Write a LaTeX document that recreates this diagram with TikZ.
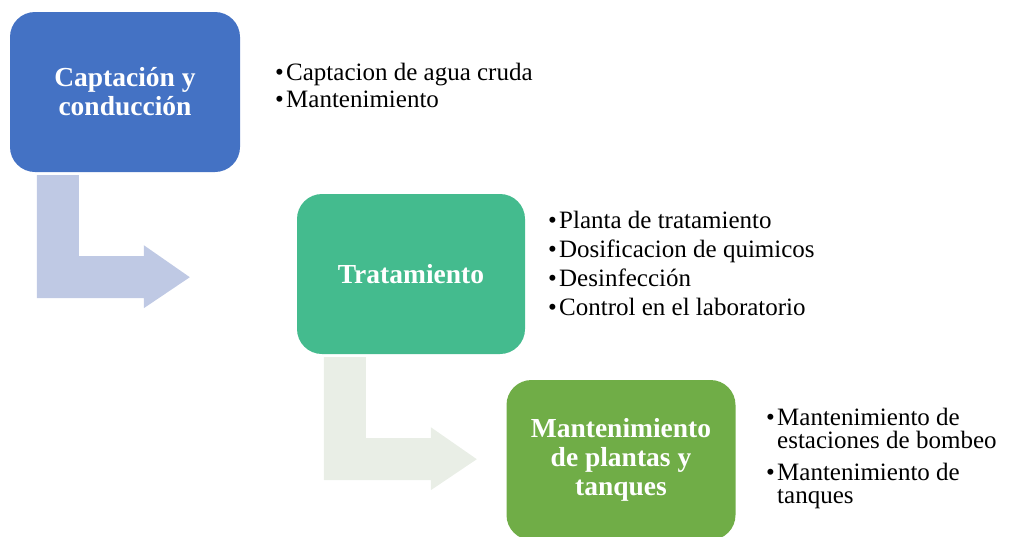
\documentclass[tikz,border=0pt]{standalone}
\usepackage{fontspec}
\setmainfont{Liberation Serif}
\usetikzlibrary{calc}
\definecolor{captblue}{HTML}{4472C4}
\definecolor{tratgreen}{HTML}{44BB8E}
\definecolor{mantgreen}{HTML}{70AD47}
\definecolor{arrowblue}{HTML}{BFC9E4}
\definecolor{arrowgray}{HTML}{E9EEE6}
\newcommand{\blt}{\makebox[11pt][l]{•}}

\begin{document}
\begin{tikzpicture}[x=1pt, y=-1pt]
  \tikzstyle{stage}=[rounded corners=25pt, minimum height=160pt, align=center, text=white, font=\fontsize{27.5}{29}\selectfont\bfseries]
  \tikzstyle{item}=[anchor=base west, inner sep=0pt, font=\fontsize{25}{29}\selectfont]
  \useasboundingbox (0,0) rectangle (1010,536);

  \node[stage, fill=captblue, minimum width=230pt] (capt) at (125,92) {Captación y\\conducción};
  \node[stage, fill=tratgreen, minimum width=228pt] (trat) at (411,274) {Tratamiento};
  \node[stage, fill=mantgreen, minimum width=229pt] (mant) at (621,460) {Mantenimiento\\de plantas y\\tanques};

  % bent arrows
  \foreach \from/\col in {capt/arrowblue, trat/arrowgray}
  {
    \fill[\col] ($(\from.south west)+(27,3)$) -- ++(42,0) -- ++(0,81) -- ++(65,0) -- ++(0,-11)
      -- ++(46,32) -- ++(-46,31) -- ++(0,-10) -- ++(-107,0) -- cycle;
  }

  % lists
  \node[item] (c1) at (275,80) {\blt Captacion de agua cruda};
  \node[item] (c2) at (275,107) {\blt Mantenimiento};

  \foreach \txt [count=\i] in {Planta de tratamiento, Dosificacion de quimicos, Desinfección, Control en el laboratorio}
  {
    \node[item] (t\i) at (548, 199+29*\i) {\blt \txt};
  }

  \node[item] (m1) at (766,425) {\blt Mantenimiento de};
  \node[item] (m2) at (777,448) {estaciones de bombeo};
  \node[item] (m3) at (766,480) {\blt Mantenimiento de};
  \node[item] (m4) at (777,503) {tanques};
\end{tikzpicture}
\end{document}
